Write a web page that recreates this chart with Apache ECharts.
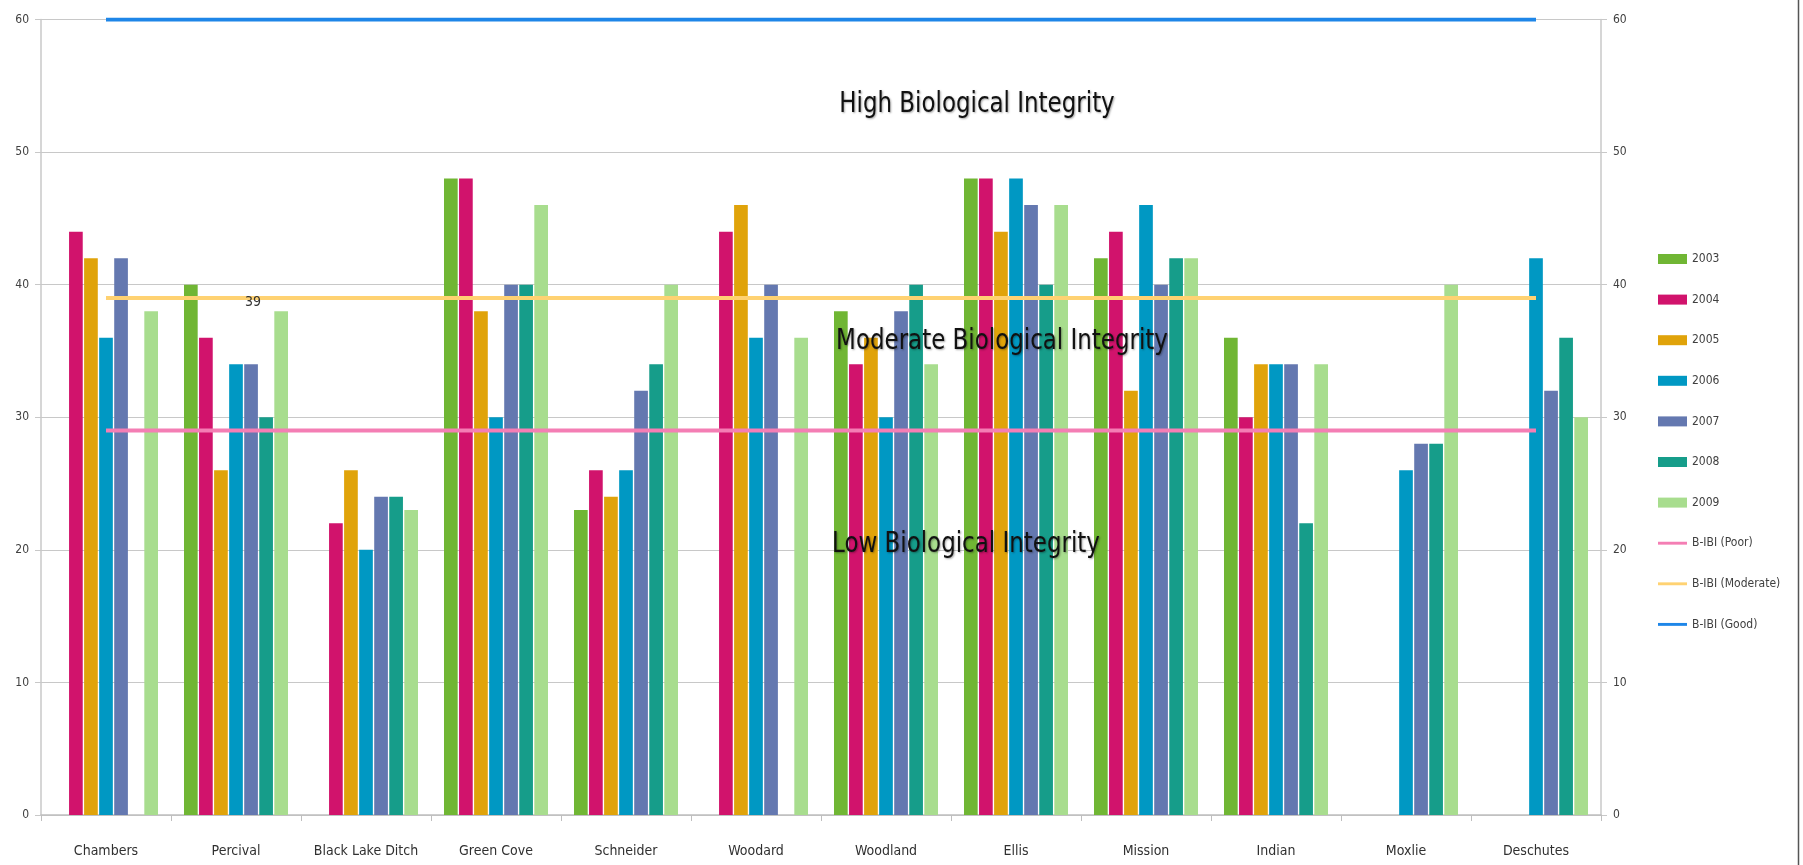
<!DOCTYPE html>
<html>
<head>
<meta charset="utf-8">
<title>B-IBI scores by stream, 2003-2009</title>
<script src="https://cdn.jsdelivr.net/npm/echarts@6/dist/echarts.min.js"></script>
<style>
  html, body { margin: 0; padding: 0; background: #ffffff; }
  #chart { width: 1803px; height: 865px; }
</style>
</head>
<body>
<div id="chart"></div>
<script>
// Streams sampled
const streams = ['Chambers', 'Percival', 'Black Lake Ditch', 'Green Cove', 'Schneider',
  'Woodard', 'Woodland', 'Ellis', 'Mission', 'Indian', 'Moxlie', 'Deschutes'];

// B-IBI scores per sampling year (null = not sampled)
const y2003 = [null, 40, null, 48, 23, null, 38, 48, 42, 36, null, null];
const y2004 = [44, 36, 22, 48, 26, 44, 34, 48, 44, 30, null, null];
const y2005 = [42, 26, 26, 38, 24, 46, 36, 44, 32, 34, null, null];
const y2006 = [36, 34, 20, 30, 26, 36, 30, 48, 46, 34, 26, 42];
const y2007 = [42, 34, 24, 40, 32, 40, 38, 46, 40, 34, 28, 32];
const y2008 = [null, 30, 24, 40, 34, null, 40, 40, 42, 22, 28, 36];
const y2009 = [38, 38, 23, 46, 40, 36, 34, 46, 42, 34, 40, 30];

// Condition thresholds
const ibiPoor     = [29, 29, 29, 29, 29, 29, 29, 29, 29, 29, 29, 29];
const ibiModerate = [39, 39, 39, 39, 39, 39, 39, 39, 39, 39, 39, 39];
const ibiGood     = [60, 60, 60, 60, 60, 60, 60, 60, 60, 60, 60, 60];

// Left/right axis ticks
const yTicks = [0, 10, 20, 30, 40, 50, 60];

const yearSeries = [
  { name: '2003', data: y2003, color: '#70B634' },
  { name: '2004', data: y2004, color: '#D1136C' },
  { name: '2005', data: y2005, color: '#E0A30A' },
  { name: '2006', data: y2006, color: '#0098C3' },
  { name: '2007', data: y2007, color: '#6478B0' },
  { name: '2008', data: y2008, color: '#169D8A' },
  { name: '2009', data: y2009, color: '#A8DD8E' }
];

const FONT = '"Liberation Sans Narrow", "DejaVu Sans Condensed", "Open Sans", sans-serif';

const chart = echarts.init(document.getElementById('chart'), null, { renderer: 'canvas' });

const barSeries = yearSeries.map(s => ({
  name: s.name,
  type: 'bar',
  data: s.data,
  barGap: '10%',
  barCategoryGap: '20%',
  itemStyle: { color: s.color },
  emphasis: { disabled: true },
  z: 2
}));

function thresholdLine(name, data, color, extra) {
  return Object.assign({
    name: name,
    type: 'line',
    data: data,
    symbol: 'none',
    lineStyle: { color: color, width: 4 },
    itemStyle: { color: color },
    emphasis: { disabled: true },
    silent: true,
    z: 3
  }, extra || {});
}

// The moderate threshold carries its value label next to the Percival point
const moderateData = ibiModerate.map((v, i) => i === 1
  ? { value: v, symbol: 'circle', symbolSize: 0,
      label: { show: true, position: 'inside', offset: [17, 4],
               color: '#333', fontSize: 14, fontFamily: FONT,
               formatter: p => String(p.value) } }
  : v);

// thin horizontal stroke used as the legend key of the threshold lines
const LINE_KEY = 'path://M0,0 L0,0 M0,3.5 L30,3.5 L30,6.5 L0,6.5 Z M30,10';

// big region captions, drawn in a condensed face
function caption(text, x, y) {
  return {
    type: 'text', x: x, y: y, scaleX: 0.88, z: 10,
    style: { text: text, x: 0, y: 0, align: 'center', verticalAlign: 'middle',
      font: '29px ' + FONT, fill: '#111',
      textShadowColor: 'rgba(0,0,0,0.35)', textShadowBlur: 2,
      textShadowOffsetX: 1, textShadowOffsetY: 1 }
  };
}

const option = {
  backgroundColor: '#ffffff',
  animation: false,
  grid: { left: 41, right: 202, top: 19.5, bottom: 50, containLabel: false },
  legend: {
    orient: 'vertical',
    left: 1653,
    top: 247,
    itemWidth: 29,
    itemHeight: 10,
    itemGap: 26.6,
    icon: 'rect',
    textStyle: { fontFamily: FONT, fontSize: 12, color: '#404040', lineHeight: 14 },
    data: ['2003', '2004', '2005', '2006', '2007', '2008', '2009',
      { name: 'B-IBI (Poor)', icon: LINE_KEY },
      { name: 'B-IBI (Moderate)', icon: LINE_KEY },
      { name: 'B-IBI (Good)', icon: LINE_KEY }]
  },
  xAxis: {
    type: 'category',
    data: streams,
    axisLine: { lineStyle: { color: '#BFBFBF', width: 1.5 } },
    axisTick: { show: true, length: 6, lineStyle: { color: '#BFBFBF' } },
    axisLabel: { interval: 0, color: '#303030', fontFamily: FONT, fontSize: 14, margin: 29 },
    splitLine: { show: false }
  },
  yAxis: [
    {
      type: 'value', min: yTicks[0], max: yTicks[yTicks.length - 1], interval: 10,
      position: 'left',
      axisLine: { show: true, lineStyle: { color: '#C8C8C8', width: 1.5 } },
      axisTick: { show: true, length: 6, lineStyle: { color: '#C8C8C8' } },
      axisLabel: { color: '#404040', fontFamily: FONT, fontSize: 12, margin: 12 },
      splitLine: { show: true, lineStyle: { color: '#C8C8C8', width: 1.2 } }
    },
    {
      type: 'value', min: yTicks[0], max: yTicks[yTicks.length - 1], interval: 10,
      position: 'right',
      axisLine: { show: true, lineStyle: { color: '#C8C8C8', width: 1.5 } },
      axisTick: { show: true, length: 6, lineStyle: { color: '#C8C8C8' } },
      axisLabel: { color: '#404040', fontFamily: FONT, fontSize: 12, margin: 12 },
      splitLine: { show: false }
    }
  ],
  series: barSeries.concat([
    thresholdLine('B-IBI (Poor)', ibiPoor, '#F47EB4'),
    thresholdLine('B-IBI (Moderate)', moderateData, '#FFD272', { showSymbol: true }),
    thresholdLine('B-IBI (Good)', ibiGood, '#1E86E8')
  ]),
  graphic: [
    caption('High Biological Integrity', 977, 104),
    caption('Moderate Biological Integrity', 1002, 341),
    caption('Low Biological Integrity', 966, 544),
    { type: 'line', z: 10,
      shape: { x1: 1798.5, y1: 0, x2: 1798.5, y2: 865 },
      style: { stroke: '#555', lineWidth: 1.5 } }
  ]
};

chart.setOption(option);
</script>
</body>
</html>
